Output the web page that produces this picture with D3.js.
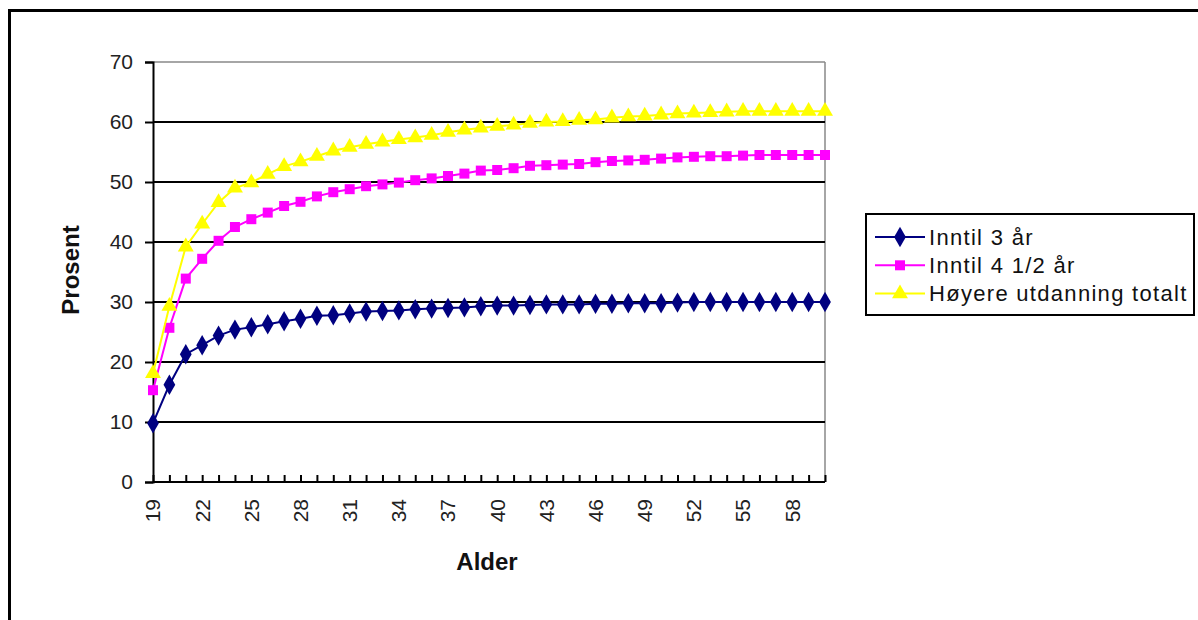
<!DOCTYPE html>
<html><head><meta charset="utf-8">
<script src="https://cdn.jsdelivr.net/npm/d3@7"></script>
<style>
body{margin:0;background:#fff;}
svg{display:block;font-family:"Liberation Sans",Arial,sans-serif;}
</style></head>
<body><svg id="c" width="1198" height="620"></svg>
<script>
const ages = [19,20,21,22,23,24,25,26,27,28,29,30,31,32,33,34,35,36,37,38,39,40,41,42,43,44,45,46,47,48,49,50,51,52,53,54,55,56,57,58,59,60];
const inntil3 = [9.8,16.2,21.3,22.8,24.4,25.4,25.8,26.3,26.8,27.2,27.7,27.8,28.1,28.4,28.5,28.6,28.8,28.9,29.0,29.1,29.3,29.4,29.4,29.5,29.6,29.6,29.6,29.7,29.7,29.8,29.8,29.8,29.9,30.0,30.0,30.0,30.0,30.0,30.0,30.0,30.0,30.0];
const inntil45 = [15.3,25.7,33.9,37.2,40.2,42.5,43.8,44.9,46.0,46.7,47.6,48.3,48.8,49.3,49.6,49.9,50.3,50.6,51.0,51.4,51.9,52.0,52.3,52.7,52.8,52.9,53.0,53.3,53.5,53.6,53.7,53.9,54.1,54.2,54.3,54.3,54.4,54.5,54.5,54.5,54.5,54.5];
const totalt = [18.1,29.3,39.2,43.0,46.6,49.0,49.9,51.3,52.6,53.4,54.3,55.2,55.8,56.3,56.7,57.1,57.4,57.8,58.3,58.7,59.0,59.3,59.5,59.8,60.0,60.1,60.3,60.4,60.7,60.9,61.0,61.2,61.4,61.5,61.6,61.7,61.8,61.8,61.8,61.8,61.8,61.8];
const seriesNames = ["Inntil 3 år","Inntil 4 1/2 år","Høyere utdanning totalt"];
const seriesColors = ["#000080","#FF00FF","#FFFF00"];
const seriesSymbols = [d3.symbolDiamond, d3.symbolSquare, d3.symbolTriangle];
const yTicks = [0,10,20,30,40,50,60,70];
const xTickLabels = [19,22,25,28,31,34,37,40,43,46,49,52,55,58];
const xTitle = "Alder", yTitle = "Prosent";

const svg = d3.select("#c");
// outer frame
svg.append("line").attr("x1",8).attr("x2",1198).attr("y1",10.5).attr("y2",10.5).attr("stroke","#000").attr("stroke-width",3);
svg.append("line").attr("x1",9.5).attr("x2",9.5).attr("y1",9).attr("y2",620).attr("stroke","#000").attr("stroke-width",3);

const L=153,R=825,T=62,B=482;
const x = d3.scalePoint().domain(ages).range([L,R]);
const y = d3.scaleLinear().domain([0,70]).range([B,T]);

// plot frame top/right gray
svg.append("line").attr("x1",L).attr("x2",R).attr("y1",T).attr("y2",T).attr("stroke","#888").attr("stroke-width",1.5);
svg.append("line").attr("x1",R).attr("x2",R).attr("y1",T).attr("y2",B).attr("stroke","#888").attr("stroke-width",1.5);
// gridlines
svg.append("g").selectAll("line").data(yTicks.filter(v=>v>0&&v<70)).join("line")
  .attr("x1",L).attr("x2",R).attr("y1",d=>y(d)).attr("y2",d=>y(d)).attr("stroke","#000").attr("stroke-width",2);

// y axis
const yAxis = svg.append("g").attr("transform",`translate(${L},0)`)
  .call(d3.axisLeft(y).tickValues(yTicks).tickSize(8).tickPadding(12));
yAxis.select(".domain").attr("stroke","#000").attr("stroke-width",2);
yAxis.selectAll(".tick line").attr("stroke","#000").attr("stroke-width",2);
yAxis.selectAll("text").attr("font-size",21).attr("fill","#222").attr("font-family","Liberation Sans, Arial, sans-serif");

// x axis
const xAxis = svg.append("g").attr("transform",`translate(0,${B})`)
  .call(d3.axisBottom(x).tickSize(-7).tickFormat(""));
xAxis.select(".domain").attr("stroke","#000").attr("stroke-width",2).attr("d",`M${L},0H${R}`);
xAxis.selectAll(".tick line").attr("stroke","#000").attr("stroke-width",2);
svg.append("g").selectAll("text").data(xTickLabels).join("text")
  .attr("transform",d=>`translate(${x(d)},${B+17}) rotate(-90)`)
  .attr("text-anchor","end").attr("dy","0.35em")
  .attr("font-size",21).attr("fill","#222").text(d=>d);

// titles
svg.append("text").attr("x",487).attr("y",570).attr("text-anchor","middle")
  .attr("font-size",24).attr("font-weight","bold").attr("fill","#111").text(xTitle);
svg.append("text").attr("transform","translate(79,270) rotate(-90)").attr("text-anchor","middle")
  .attr("font-size",24).attr("font-weight","bold").attr("fill","#111").text(yTitle);

// series
const allSeries = [inntil3, inntil45, totalt];
const line = d3.line().x((d,i)=>x(ages[i])).y(d=>y(d));
const symSizes = [120,100,110];
allSeries.forEach((vals,k)=>{
  svg.append("path").datum(vals).attr("d",line).attr("fill","none")
    .attr("stroke",seriesColors[k]).attr("stroke-width",2);
  svg.append("g").selectAll("path").data(vals).join("path")
    .attr("transform",(d,i)=>`translate(${x(ages[i])},${y(d)})`)
    .attr("d",d3.symbol().type(seriesSymbols[k]).size(symSizes[k]))
    .attr("fill",seriesColors[k]);
});

// legend
const lg = svg.append("g");
lg.append("rect").attr("x",866).attr("y",214).attr("width",328).attr("height",101)
  .attr("fill","#fff").attr("stroke","#000").attr("stroke-width",2);
seriesNames.forEach((n,k)=>{
  const cy = 237 + k*28.3;
  lg.append("line").attr("x1",875).attr("x2",925).attr("y1",cy).attr("y2",cy)
    .attr("stroke",seriesColors[k]).attr("stroke-width",2);
  lg.append("path").attr("transform",`translate(900,${cy})`)
    .attr("d",d3.symbol().type(seriesSymbols[k]).size(symSizes[k])).attr("fill",seriesColors[k]);
  lg.append("text").attr("x",929).attr("y",cy).attr("dy","0.35em")
    .attr("font-size",22).attr("letter-spacing",1.3).attr("fill","#111").text(n);
});
</script></body></html>
